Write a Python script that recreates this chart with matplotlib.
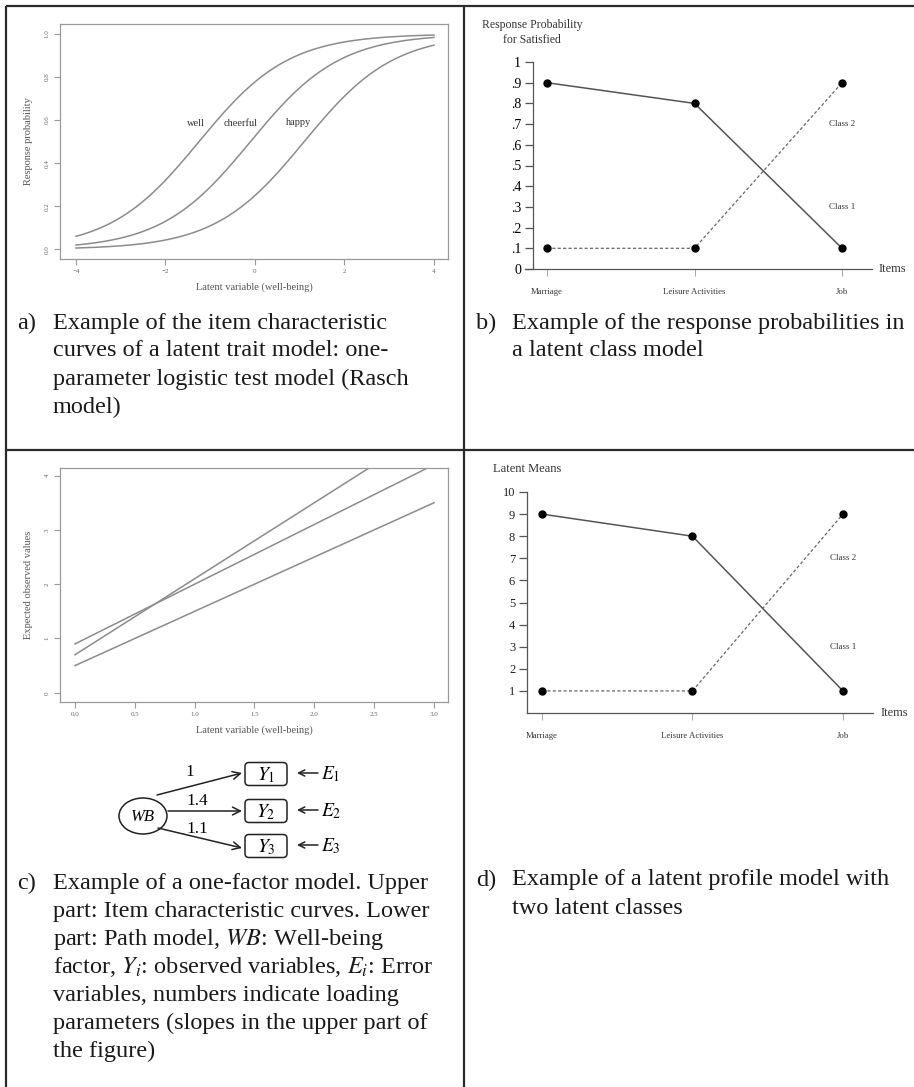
import numpy as np
import matplotlib
matplotlib.use("Agg")
import matplotlib.pyplot as plt
from matplotlib.patches import Ellipse, FancyBboxPatch

plt.rcParams['font.family'] = ['Liberation Serif', 'DejaVu Serif']
plt.rcParams['mathtext.fontset'] = 'stix'

# Data
# a) Rasch item difficulties
items_a = ["well", "cheerful", "happy"]
difficulty = [-1.25, -0.1, 1.1]
label_pos_a = [(-1.32, 0.582), (-0.33, 0.582), (0.97, 0.588)]

# c) one-factor model: intercepts and loadings
intercepts = [0.5, 0.7, 0.9]
loadings = [1, 1.4, 1.1]
path_labels = ["1", "1.4", "1.1"]

# b) latent class response probabilities
items_bd = ["Marriage", "Leisure Activities", "Job"]
class1_prob = [0.9, 0.8, 0.1]
class2_prob = [0.1, 0.1, 0.9]
prob_ticks = [0, .1, .2, .3, .4, .5, .6, .7, .8, .9, 1]
prob_labels = ["0", ".1", ".2", ".3", ".4", ".5", ".6", ".7", ".8", ".9", "1"]

# d) latent profile means
class1_mean = [9, 8, 1]
class2_mean = [1, 1, 9]
mean_ticks = [1, 2, 3, 4, 5, 6, 7, 8, 9, 10]

W, H = 914, 1087
fig = plt.figure(figsize=(W / 100, H / 100), dpi=100)

ov = fig.add_axes([0, 0, 1, 1])
ov.set_xlim(0, W)
ov.set_ylim(H, 0)
ov.axis('off')


def px_axes(l, t, r, b):
    return fig.add_axes([l / W, 1 - b / H, (r - l) / W, (b - t) / H])


# table grid
grid_kw = dict(color='#2b2b2b', lw=1.6, solid_capstyle='butt')
ov.plot([6, W], [6, 6], **grid_kw)
ov.plot([6, 6], [6, H], **grid_kw)
ov.plot([464, 464], [6, H], **grid_kw)
ov.plot([6, W], [450, 450], **grid_kw)

curve_col = '#8c8c8c'


def r_style(ax):
    for s in ax.spines.values():
        s.set_color('#9a9a9a')
        s.set_linewidth(0.9)
    ax.tick_params(colors='#9a9a9a', labelcolor='#666666', labelsize=5, length=4, width=0.8)
    for lab in ax.get_yticklabels():
        lab.set_rotation(90)
        lab.set_va('center')


# a) item characteristic curves
ax = px_axes(60, 24, 448, 259)
theta = np.linspace(-4, 4, 200)
for b in difficulty:
    ax.plot(theta, 1 / (1 + np.exp(-(theta - b))), color=curve_col, lw=1.1)
for name, (x, y) in zip(items_a, label_pos_a):
    ax.text(x, y, name, ha='center', va='center', fontsize=7.5, color='#333333')
ax.set_xlim(-4.357, 4.313)
ax.set_ylim(-0.045, 1.046)
ax.set_xticks([-4, -2, 0, 2, 4])
ax.set_yticks([0, 0.2, 0.4, 0.6, 0.8, 1.0])
ax.set_yticklabels(["0.0", "0.2", "0.4", "0.6", "0.8", "1.0"])
r_style(ax)
ax.set_xlabel("Latent variable (well-being)", fontsize=7.5, color='#555555', labelpad=6)
ax.set_ylabel("Response probability", fontsize=7.5, color='#555555', labelpad=8)

# c) linear item characteristic curves
ax = px_axes(60, 468, 448, 702)
eta = np.array([0, 3])
for a0, lam in zip(intercepts, loadings):
    ax.plot(eta, a0 + lam * eta, color=curve_col, lw=1.1)
ax.set_xlim(-0.125, 3.117)
ax.set_ylim(-0.17, 4.14)
ax.set_xticks([0, 0.5, 1.0, 1.5, 2.0, 2.5, 3.0])
ax.set_xticklabels(["0.0", "0.5", "1.0", "1.5", "2.0", "2.5", "3.0"])
ax.set_yticks([0, 1, 2, 3, 4])
r_style(ax)
ax.set_xlabel("Latent variable (well-being)", fontsize=7.5, color='#555555', labelpad=6)
ax.set_ylabel("Expected observed values", fontsize=7.5, color='#555555', labelpad=8)

# c) path diagram
ov.add_patch(Ellipse((143, 816), 48, 36, fill=False, ec='#222222', lw=1.1))
ov.text(143, 817, "WB", ha='center', va='center', fontsize=12, style='italic')
box_y = [774, 811, 846]
start_pts = [(157, 795), (168, 811), (158, 828)]
end_dy = [-1, 0, 2]
lab_pts = [(190, 772), (197, 801), (197, 829)]
for i, (yb, sp, dy, lp, lab) in enumerate(zip(box_y, start_pts, end_dy, lab_pts, path_labels)):
    ov.add_patch(FancyBboxPatch((245, yb - 11.5), 42, 23,
                                boxstyle="round,pad=0,rounding_size=4",
                                fill=False, ec='#222222', lw=1.1))
    ov.text(266, yb + 1, r"$Y_{%d}$" % (i + 1), ha='center', va='center', fontsize=14)
    ov.annotate("", xy=(242, yb + dy), xytext=sp,
                arrowprops=dict(arrowstyle='->', color='#222222', lw=1.1,
                                mutation_scale=14, shrinkA=0, shrinkB=0))
    ov.annotate("", xy=(297, yb - 1), xytext=(318, yb - 1),
                arrowprops=dict(arrowstyle='->', color='#222222', lw=1.1,
                                mutation_scale=11, shrinkA=0, shrinkB=0))
    ov.text(321, yb, r"$E_{%d}$" % (i + 1), ha='left', va='center', fontsize=14)
    ov.text(lp[0], lp[1], lab, ha='center', va='center', fontsize=12.5)


def class_plot(ax, c1, c2, ylim, yticks, yticklabels, x0, x1):
    x = np.arange(1, len(items_bd) + 1)
    ax.plot(x, c1, color='#555555', lw=1.1, zorder=2)
    ax.plot(x, c2, color='#666666', lw=0.9, ls=(0, (2.5, 1.8)), zorder=2)
    ax.plot(x, c1, 'o', color='black', ms=5, zorder=3)
    ax.plot(x, c2, 'o', color='black', ms=5, zorder=3)
    ax.set_xlim(x0, x1)
    ax.set_ylim(*ylim)
    ax.spines['top'].set_visible(False)
    ax.spines['right'].set_visible(False)
    for s in ('left', 'bottom'):
        ax.spines[s].set_color('#555555')
        ax.spines[s].set_linewidth(0.9)
    ax.set_xticks(x)
    ax.set_xticklabels(items_bd, fontsize=6.3, color='#333333')
    ax.set_yticks(yticks)
    ax.set_yticklabels(yticklabels, fontsize=9, color='#222222')
    ax.tick_params(axis='y', length=5.5, width=0.9, color='#555555', pad=3)
    ax.tick_params(axis='x', length=5, width=0.6, color='#999999', pad=9)


# b) latent class model
ax = px_axes(525, 62, 872, 269)
class_plot(ax, class1_prob, class2_prob, (0, 1), prob_ticks, prob_labels, 0.851, 3.203)
ax.spines['left'].set_position(('data', 0.905))
ax.text(3, 0.7, "Class 2", ha='center', va='center', fontsize=6.5, color='#333333')
ax.text(3, 0.3, "Class 1", ha='center', va='center', fontsize=6.5, color='#333333')
ov.text(532, 25, "Response Probability", ha='center', va='center', fontsize=8.5, color='#333333')
ov.text(532, 40, "for Satisfied", ha='center', va='center', fontsize=8.5, color='#333333')
ov.text(879, 269, "Items", ha='left', va='center', fontsize=9, color='#333333')

# d) latent profile model
ax = px_axes(527, 492, 873, 713)
class_plot(ax, class1_mean, class2_mean, (0, 10), mean_ticks,
           [str(t) for t in mean_ticks], 0.9, 3.2)
ax.text(3, 7, "Class 2", ha='center', va='center', fontsize=6.5, color='#333333')
ax.text(3, 3, "Class 1", ha='center', va='center', fontsize=6.5, color='#333333')
ov.text(493, 469, "Latent Means", ha='left', va='center', fontsize=9, color='#333333')
ov.text(881, 713, "Items", ha='left', va='center', fontsize=9, color='#333333')

# captions
cap_fs = 17.5
captions = [
    (17, 53, 323, "a)", ["Example of the item characteristic",
                         "curves of a latent trait model: one-",
                         "parameter logistic test model (Rasch",
                         "model)"]),
    (476, 512, 323, "b)", ["Example of the response probabilities in",
                           "a latent class model"]),
    (17, 53, 883, "c)", ["Example of a one-factor model. Upper",
                         "part: Item characteristic curves. Lower",
                         r"part: Path model, $\it{WB}$: Well-being",
                         r"factor, $\it{Y_i}$: observed variables, $\it{E_i}$: Error",
                         "variables, numbers indicate loading",
                         "parameters (slopes in the upper part of",
                         "the figure)"]),
    (476, 512, 880, "d)", ["Example of a latent profile model with",
                           "two latent classes"]),
]
for xl, xt, y0, tag, lines in captions:
    ov.text(xl, y0, tag, ha='left', va='center', fontsize=cap_fs, color='#1a1a1a')
    for k, line in enumerate(lines):
        ov.text(xt, y0 + k * 28, line, ha='left', va='center', fontsize=cap_fs, color='#1a1a1a')

fig.savefig("out.png", dpi=100)
